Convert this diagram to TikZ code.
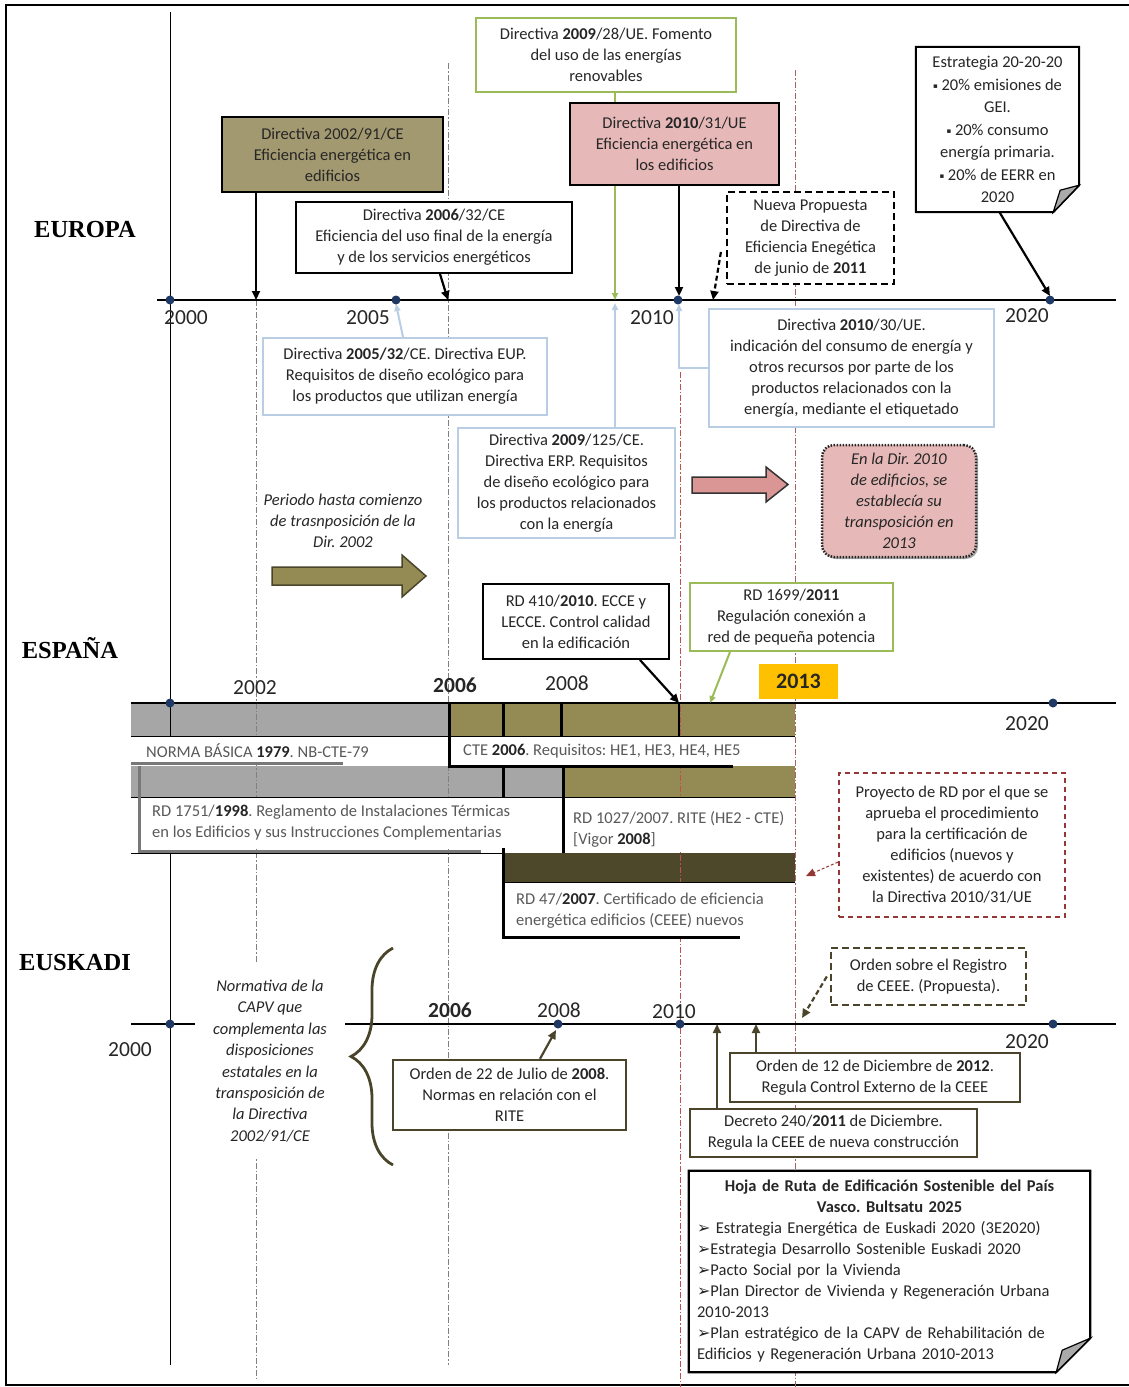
\documentclass[tikz,border=0pt]{standalone}
\usepackage{fontspec}
\setmainfont{Carlito}
\newfontfamily\headfont{Liberation Serif}
\newfontfamily\symfont{DejaVu Sans}
\usepackage{xcolor}
\usepackage{tikz}
\usetikzlibrary{arrows.meta,positioning,shadows,decorations.pathreplacing}
\frenchspacing

\definecolor{txt}{RGB}{38,38,38}
\definecolor{lblgray}{RGB}{89,89,89}
\definecolor{labgray}{RGB}{120,120,120}
\definecolor{graybar}{RGB}{166,166,166}
\definecolor{olivebar}{RGB}{148,138,84}
\definecolor{tanfill}{RGB}{163,153,112}
\definecolor{darkbar}{RGB}{78,72,42}
\definecolor{olivedk}{RGB}{74,69,42}
\definecolor{pinkfill}{RGB}{230,185,184}
\definecolor{pinkarrow}{RGB}{217,150,148}
\definecolor{greenl}{RGB}{155,187,89}
\definecolor{bluel}{RGB}{185,205,229}
\definecolor{orange13}{RGB}{255,192,0}
\definecolor{dotc}{RGB}{31,56,100}
\definecolor{redbr}{RGB}{149,55,53}
\definecolor{redline}{RGB}{192,80,77}
\definecolor{foldgray}{RGB}{170,170,170}

\newcommand{\sqbul}{{\symfont\fontsize{7}{7}\selectfont\raisebox{1.5pt}{▪}}}
\newcommand{\arbul}{{\symfont\fontsize{16}{16}\selectfont ➢}}

\begin{document}
\begin{tikzpicture}[
  x=1pt, y=-1pt,
  font=\fontsize{16.5}{21}\selectfont,
  box/.style={draw, line width=2pt, fill=white, align=center, inner sep=0pt, text=txt},
  tanbox/.style={box, fill=tanfill},
  pinkbox/.style={box, fill=pinkfill},
  greenbox/.style={box, draw=greenl},
  bluebox/.style={box, draw=bluel},
  dashbox/.style={box, dash pattern=on 7pt off 4pt, line width=2.2pt},
  euskbox/.style={box, draw=olivedk, line width=2.4pt},
  note/.style={fill=white, align=center, inner sep=0pt, text=txt},
  lbl/.style={inner sep=0pt, align=left, anchor=west, text=lblgray},
  year/.style={font=\fontsize{21.5}{21.5}\selectfont, text=txt},
  region/.style={font=\headfont\fontsize{24.5}{24.5}\selectfont\bfseries, text=black},
  ital/.style={font=\fontsize{16.5}{21}\selectfont\itshape, align=center, text=txt},
  dashdot/.style={line width=1pt, dash pattern=on 6pt off 2pt on 1.5pt off 2pt},
  axis/.style={line width=1.3pt},
  arr/.style={-{Triangle[length=9pt,width=8pt]}, line width=2.2pt},
  garr/.style={-{Triangle[length=7pt,width=6pt]}, line width=2pt, draw=greenl},
  barr/.style={-{Triangle[length=7pt,width=6pt]}, line width=2pt, draw=bluel},
  oarr/.style={-{Triangle[length=9pt,width=8pt]}, line width=2.2pt, draw=olivedk},
  rarr/.style={-{Triangle[length=9pt,width=8pt]}, line width=1pt, draw=redbr, dash pattern=on 3pt off 2pt}
]
  \useasboundingbox (0,0) rectangle (1128,1387);
  % frame
  \draw[line width=1.5pt] (1135,5) -- (6,5) -- (6,1385) -- (1135,1385);

  % bars Espana
  \fill[graybar] (131,703) rectangle (449,736);
  \fill[olivebar] (449,703) rectangle (795,736);
  \fill[graybar] (131,766) rectangle (563,797);
  \fill[olivebar] (563,766) rectangle (795,797);
  \fill[darkbar] (503,853) rectangle (795,882);

  % year guides
  \draw[dashdot, draw=gray] (256,300) -- (256,1380);
  \draw[dashdot, draw=gray] (448,63) -- (448,1365);
  \draw[dashdot, draw=redline] (680,372) -- (680,1387);
  \draw[dashdot, draw=redline!60!gray] (795,70) -- (795,1387);
  \draw[line width=1pt] (170,12) -- (170,736);
  \draw[line width=1pt] (170,853) -- (170,1365);

  % bar labels
  \fill[white] (131,737) rectangle (448,762);
  \fill[white] (450,737) rectangle (793,765);
  \fill[white] (141,798) rectangle (562,849);
  \fill[white] (564,798) rectangle (793,852);
  \fill[white] (505,883) rectangle (793,935);
  \node[lbl] (normab) at (146,751) {NORMA BÁSICA \textbf{\color{txt}1979}. NB-CTE-79};
  \node[lbl] (cte) at (463,751) {CTE \textbf{\color{txt}2006}. Requisitos: HE1, HE3, HE4, HE5};
  \node[lbl] (rd1751) at (152,823) {RD 1751/\textbf{\color{txt}1998}. Reglamento de Instalaciones Térmicas\\en los Edificios y sus Instrucciones Complementarias};
  \node[lbl] (rite) at (573,829) {RD 1027/2007. RITE (HE2 - CTE)\\{}[Vigor \textbf{\color{txt}2008}]};
  \node[lbl] (rd47) at (516,911) {RD 47/\textbf{\color{txt}2007}. Certificado de eficiencia\\energética edificios (CEEE) nuevos};

  \draw[line width=1pt] (131,736) -- (795,736);
  \draw[line width=1pt] (131,797) -- (795,797);
  \draw[line width=1pt] (131,853) -- (503,853);
  \draw[line width=1pt] (503,882) -- (795,882);
  \draw[line width=3pt, labgray] (131,763) -- (343,763);
  \draw[line width=3pt, labgray] (139,766) -- (139,851) -- (481,851);
  \draw[line width=3pt] (449,703) -- (449,766) -- (733,766);
  \draw[line width=3pt] (563,766) -- (563,853);
  \draw[line width=3pt] (503,848) -- (503,937) -- (740,937);
  \draw[line width=3pt] (503,703) -- (503,736);
  \draw[line width=3pt] (561,703) -- (561,736);
  \draw[line width=3pt] (503,766) -- (503,797);
  \draw[line width=1.5pt] (679,703) -- (679,736);

  % axes
  \draw[axis] (157,300) -- (1116,300);
  \draw[axis] (131,703) -- (1116,703);
  \draw[axis] (131,1024) -- (1116,1024);

  % regions
  \node[region] (europa) at (85,230) {EUROPA};
  \node[region] (espana) at (70,648) {ESPAÑA};
  \node[region] (euskadi) at (75,962) {EUSKADI};

  % years
  \node[year] (ye2000) at (186,318) {2000};
  \node[year] (ye2005) at (368,318) {2005};
  \node[year] (ye2010) at (652,318) {2010};
  \node[year] (ye2020) at (1027,316) {2020};
  \node[year] (ys2002) at (255,688) {2002};
  \node[year, font=\fontsize{21.5}{21.5}\selectfont\bfseries] (ys2006) at (455,685) {2006};
  \node[year] (ys2008) at (567,683) {2008};
  \node[year] (ys2020) at (1027,724) {2020};
  \node[year] (yk2000) at (130,1050) {2000};
  \node[year, font=\fontsize{21.5}{21.5}\selectfont\bfseries] (yk2006) at (450,1010) {2006};
  \node[year] (yk2008) at (559,1010) {2008};
  \node[year] (yk2010) at (674,1012) {2010};
  \node[year] (yk2020) at (1027,1042) {2020};

  % axis points
  \coordinate (eu2002) at (256,300);
  \coordinate (eu2005) at (396,300);
  \coordinate (eu2006) at (448,300);
  \coordinate (eu2009) at (615,300);
  \coordinate (eu2010) at (679,300);
  \coordinate (eu2011) at (713,300);
  \coordinate (eu2020) at (1050,300);
  \coordinate (es2010) at (679,703);
  \coordinate (es2011) at (710,703);
  \coordinate (es2013) at (806,876);
  \coordinate (ek2008) at (558,1024);
  \coordinate (ek2011) at (717,1024);
  \coordinate (ek2012) at (756,1024);
  \coordinate (ek2013) at (802,1018);

  % Europa
  \node[tanbox, minimum width=221pt, minimum height=75pt] (dir0291) at (332.5,154.5) {Directiva 2002/91/CE\\Eficiencia energética en\\edificios};
  \node[box, minimum width=276pt, minimum height=71pt] (dir0632) at (434,237.5) {Directiva \textbf{2006}/32/CE\\Eficiencia del uso final de la energía\\y de los servicios energéticos};
  \node[greenbox, minimum width=260pt, minimum height=74pt] (dir0928) at (606,55) {Directiva \textbf{2009}/28/UE. Fomento\\del uso de las energías\\renovables};
  \draw[garr] (dir0928.south -| eu2009) -- (eu2009);
  \node[pinkbox, minimum width=209pt, minimum height=82pt] (dir1031) at (674.5,144) {Directiva \textbf{2010}/31/UE\\Eficiencia energética en\\los edificios};
  \node[dashbox, minimum width=167pt, minimum height=92pt] (nueva) at (810.5,238) {Nueva Propuesta\\de Directiva de\\Eficiencia Enegética\\de junio de \textbf{2011}};
  \node[note, minimum width=163pt, minimum height=165pt, font=\fontsize{16.5}{22.5}\selectfont] (estr) at (997.5,129.5) {Estrategia 20-20-20\\\sqbul{} 20\% emisiones de\\GEI.\\\sqbul{} 20\% consumo\\energía primaria.\\\sqbul{} 20\% de EERR en\\2020};
  \draw[line width=2pt] (estr.north west) -- (estr.north east) -- ([yshift=27pt]estr.south east) -- ([xshift=-26pt]estr.south east) -- (estr.south west) -- cycle;
  \draw[line width=1.2pt, fill=foldgray] ([yshift=27pt]estr.south east) -- ([xshift=-26pt]estr.south east) -- ([xshift=-19pt,yshift=22pt]estr.south east) -- cycle;
  \node[bluebox, minimum width=284pt, minimum height=77pt] (dir0532) at (405,376.5) {Directiva \textbf{2005/32}/CE. Directiva EUP.\\Requisitos de diseño ecológico para\\los productos que utilizan energía};
  \node[bluebox, minimum width=217pt, minimum height=110pt] (dir09125) at (566.5,483) {Directiva \textbf{2009}/125/CE.\\Directiva ERP. Requisitos\\de diseño ecológico para\\los productos relacionados\\con la energía};
  \node[bluebox, minimum width=285pt, minimum height=118pt] (dir1030) at (851.5,368) {Directiva \textbf{2010}/30/UE.\\indicación del consumo de energía y\\otros recursos por parte de los\\productos relacionados con la\\energía, mediante el etiquetado};
  \node[box, fill=pinkfill, rounded corners=12pt, line width=2.5pt, draw=black!85, dash pattern=on 1.5pt off 1.5pt,
        drop shadow={shadow xshift=2pt, shadow yshift=-2pt, fill=black, opacity=0.35},
        minimum width=154pt, minimum height=112pt, font=\fontsize{16.5}{21}\selectfont\itshape] (transp) at (899,501) {En la Dir. 2010\\de edificios, se\\establecía su\\transposición en\\2013};
  \node[ital] (periodo) at (343,521) {Periodo hasta comienzo\\de trasnposición de la\\Dir. 2002};
  \draw[line width=1.5pt, draw=olivedk, fill=olivebar] (272,567) -- (402,567) -- (402,555) -- (426,576) -- (402,597) -- (402,585) -- (272,585) -- cycle;
  \draw[line width=1.5pt, draw=black!80, fill=pinkarrow] (692,477) -- (766,477) -- (766,467) -- (788,484.5) -- (766,502) -- (766,493) -- (692,493) -- cycle;

  % Espana
  \node[box, minimum width=186pt, minimum height=75pt] (rd410) at (576,621.5) {RD 410/\textbf{2010}. ECCE y\\LECCE. Control calidad\\en la edificación};
  \node[greenbox, minimum width=203pt, minimum height=68pt] (rd1699) at (791.5,617) {RD 1699/\textbf{2011}\\Regulación conexión a\\red de pequeña potencia};
  \node[fill=orange13, minimum width=79pt, minimum height=35pt, inner sep=0pt, font=\fontsize{22}{22}\selectfont\bfseries, text=txt] (y2013) at (798.5,681.5) {2013};
  \node[box, draw=redbr, line width=1.6pt, dash pattern=on 5pt off 4pt, minimum width=226pt, minimum height=144pt] (proy) at (952,845) {Proyecto de RD por el que se\\aprueba el procedimiento\\para la certificación de\\edificios (nuevos y\\existentes) de acuerdo con\\la Directiva 2010/31/UE};

  % Euskadi
  \node[ital, fill=white, minimum width=150pt, minimum height=195pt, inner sep=0pt, font=\fontsize{16.5}{21.4}\selectfont\itshape] (normat) at (270,1061) {Normativa de la\\CAPV que\\complementa las\\disposiciones\\estatales en la\\transposición de\\la Directiva\\2002/91/CE};
  \draw[line width=2.8pt, draw=olivedk, decorate, decoration={brace, amplitude=42pt, aspect=0.5}] (393,1165) -- (393,948);
  \node[euskbox, minimum width=233pt, minimum height=70pt] (ord2208) at (509.5,1095) {Orden de 22 de Julio de \textbf{2008}.\\Normas en relación con el\\RITE};
  \node[euskbox, dash pattern=on 7pt off 4pt, minimum width=195pt, minimum height=57pt] (ordreg) at (928.5,976.5) {Orden sobre el Registro\\de CEEE. (Propuesta).};
  \node[euskbox, minimum width=290pt, minimum height=49pt] (ord1212) at (875,1077.5) {Orden de 12 de Diciembre de \textbf{2012}.\\Regula Control Externo de la CEEE};
  \node[euskbox, minimum width=287pt, minimum height=48pt] (decr) at (833.5,1133) {Decreto 240/\textbf{2011} de Diciembre.\\Regula la CEEE de nueva construcción};
  \node[note, align=left, text width=385pt, inner xsep=8pt, minimum height=201pt] (hoja) at (889.5,1271.5) {\makebox[385pt]{\textbf{Hoja de Ruta de Edificación Sostenible del País}}\\\makebox[385pt]{\textbf{Vasco. Bultsatu 2025}}\\\arbul{} Estrategia Energética de Euskadi 2020 (3E2020)\\\arbul Estrategia Desarrollo Sostenible Euskadi 2020\\\arbul Pacto Social por la Vivienda\\\arbul Plan Director de Vivienda y Regeneración Urbana\\2010-2013\\\arbul Plan estratégico de la CAPV de Rehabilitación de\\Edificios y Regeneración Urbana 2010-2013};
  \draw[line width=2.2pt] (hoja.north west) -- (hoja.north east) -- ([yshift=34pt]hoja.south east) -- ([xshift=-34pt]hoja.south east) -- (hoja.south west) -- cycle;
  \draw[line width=1.2pt, fill=foldgray] ([yshift=34pt]hoja.south east) -- ([xshift=-34pt]hoja.south east) -- ([xshift=-28pt,yshift=22pt]hoja.south east) -- cycle;

  % connectors
  \draw[arr] (dir0291.south -| eu2002) -- (eu2002);
  \draw[arr] ([xshift=6pt]dir0632.south) -- (eu2006);
  \draw[barr] (dir09125.north -| eu2009) -- ([yshift=-3pt]eu2009);
  \draw[arr] (dir1031.south -| eu2010) -- ([yshift=4pt]eu2010);
  \draw[arr, dash pattern=on 5pt off 3pt] ([xshift=-5pt,yshift=-14pt]nueva.west) -- (eu2011);
  \draw[arr] ([xshift=2pt]estr.south) -- ([yshift=4pt]eu2020);
  \draw[barr] ([xshift=-2pt]dir0532.north) -- ([yshift=-4pt]eu2005);
  \draw[barr] (dir1030.west) -| ([yshift=-4pt]eu2010);
  \draw[arr] ([xshift=64pt]rd410.south) -- (es2010);
  \draw[garr] ([xshift=-61.5pt]rd1699.south) -- (es2011);
  \draw[rarr] ([yshift=-17pt]proy.west) -- (es2013);
  \draw[oarr] ([xshift=30.5pt]ord2208.north) -- ([xshift=-2pt,yshift=-6pt]ek2008);
  \draw[oarr] (ord1212.north -| ek2012) -- (ek2012);
  \draw[oarr] (decr.north -| ek2011) -- (ek2011);
  \draw[oarr, dash pattern=on 5pt off 3pt] ([xshift=-3pt]ordreg.west) -- (ek2013);

  % dots
  \foreach \p in {(170,300),(396,300),(678,300),(1050,300),(170,703),(1053,703),(170,1024),(558,1024),(680,1024),(1053,1024)}
    \fill[dotc] \p circle (4.5pt);
\end{tikzpicture}
\end{document}
